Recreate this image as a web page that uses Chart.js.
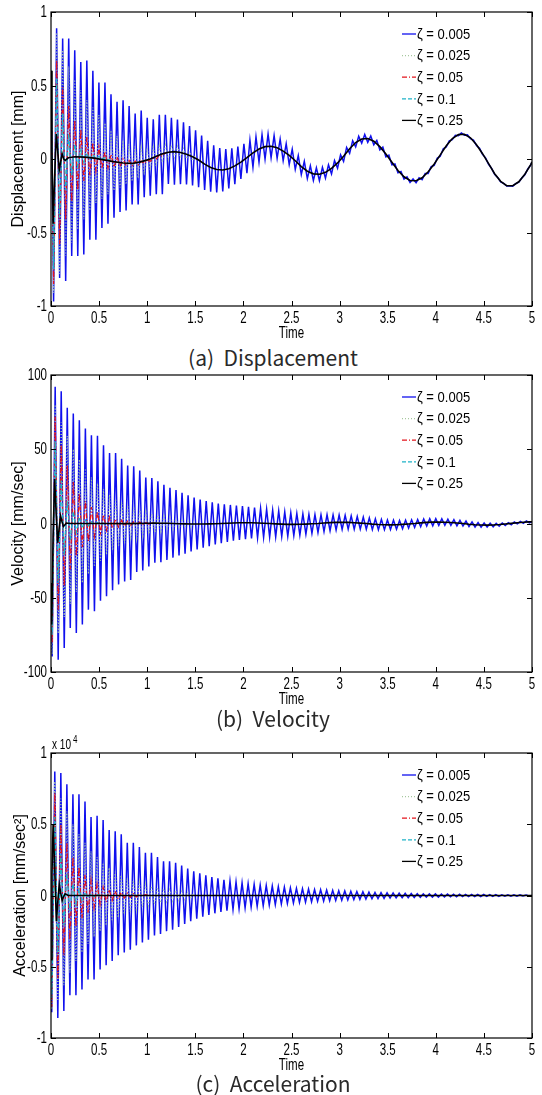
<!DOCTYPE html>
<html lang="en">
<head>
<meta charset="UTF-8">
<title>Damped response</title>
<script src="https://cdn.jsdelivr.net/npm/chart.js@4.4.0/dist/chart.umd.min.js"></script>
<style>
  body { margin: 0; background: #fff; width: 542px; height: 1095px; position: relative; overflow: hidden; }
  canvas { position: absolute; left: 0; }
  .caption { position: absolute; left: 0; width: 546px; text-align: center;
             font-family: "Noto Sans CJK KR", "Noto Sans", sans-serif; font-size: 21px;
             line-height: 26px; color: #2a2a2a; }
</style>
</head>
<body>
<canvas id="disp" width="542" height="342" style="top:0px"></canvas>
<div class="caption" style="top:344px">(a)&nbsp; Displacement</div>
<canvas id="vel" width="542" height="345" style="top:363px"></canvas>
<div class="caption" style="top:705px">(b)&nbsp; Velocity</div>
<canvas id="acc" width="542" height="341" style="top:733px"></canvas>
<div class="caption" style="top:1070px">(c)&nbsp; Acceleration</div>

<script>
// ---- data ----
const zetaLabels = ['ζ = 0.005', 'ζ = 0.025', 'ζ = 0.05', 'ζ = 0.1', 'ζ = 0.25'];
const timeTicks = [0, 0.5, 1, 1.5, 2, 2.5, 3, 3.5, 4, 4.5, 5];
const timeTickLabels = ['0', '0.5', '1', '1.5', '2', '2.5', '3', '3.5', '4', '4.5', '5'];
const dispTicks = [-1, -0.5, 0, 0.5, 1];
const dispTickLabels = ['-1', '-0.5', '0', '0.5', '1'];
const velTicks = [-100, -50, 0, 50, 100];
const velTickLabels = ['-100', '-50', '0', '50', '100'];
const accTicks = [-1, -0.5, 0, 0.5, 1];   // x 10^4
const accTickLabels = ['-1', '-0.5', '0', '0.5', '1'];

// peaks and troughs follow each other every half period
const halfPeriod = 0.0314;

// displacement [mm], extremes from t = 0.027
const dispFirst = 0.027;
const dispStart = 0.6;
const dispBlue = [
  -0.97, 0.89, -0.81, 0.82, -0.83, 0.82, -0.66, 0.74, -0.66, 0.66, -0.65, 0.67, -0.55, 0.60, -0.55, 0.52, -0.47, 0.52, -0.44, 0.44,
  -0.40, 0.39, -0.36, 0.40, -0.35, 0.36, -0.31, 0.31, -0.31, 0.33, -0.26, 0.28, -0.25, 0.27, -0.24, 0.30, -0.24, 0.30, -0.17, 0.28,
  -0.175, 0.268, -0.171, 0.249, -0.173, 0.224, -0.180, 0.195, -0.192, 0.159, -0.210, 0.123, -0.223, 0.094, -0.227, 0.075, -0.220, 0.068, -0.201, 0.072,
  -0.172, 0.085, -0.136, 0.103, -0.097, 0.128, -0.056, 0.150, -0.022, 0.165, 0.000, 0.169, 0.009, 0.159, 0.005, 0.136, -0.012, 0.104, -0.038, 0.067,
  -0.070, 0.024, -0.106, -0.016, -0.133, -0.046, -0.147, -0.060, -0.148, -0.057, -0.131, -0.040, -0.102, -0.010, -0.063, 0.028, -0.016, 0.079, 0.038, 0.124,
  0.082, 0.155, 0.108, 0.167, 0.113, 0.157, 0.097, 0.127, 0.062, 0.081, 0.014, 0.026, -0.040, -0.034, -0.094, -0.085, -0.136, -0.121, -0.160, -0.136,
  -0.161, -0.128, -0.140, -0.098, -0.098, -0.051, -0.044, 0.005, 0.019, 0.070, 0.082, 0.124, 0.131, 0.162, 0.159, 0.177, 0.162, 0.164, 0.138, 0.129,
  0.092, 0.073, 0.031, 0.008, -0.036, -0.064, -0.104, -0.125, -0.156, -0.166, -0.184, -0.182, -0.185, -0.168, -0.158, -0.129, -0.107, -0.068, -0.040
];
const dispGreen = [
  -0.91, 0.86, -0.78, 0.74, -0.66, 0.63, -0.57, 0.54, -0.48, 0.47, -0.41, 0.40, -0.35, 0.35, -0.30, 0.30,
  -0.27, 0.245, -0.24, 0.195, -0.215, 0.155, -0.194, 0.127, -0.173, 0.102, -0.152, 0.085, -0.13, 0.077, -0.105, 0.075,
  -0.077, 0.079, -0.048, 0.087, -0.021, 0.094, -0.002, 0.094, 0.009, 0.086, 0.009, 0.072, 0.002, 0.052, -0.011, 0.029
];
const dispRed = [
  -0.85, 0.67, -0.58, 0.49, -0.41, 0.36, -0.29, 0.26, -0.21, 0.20, -0.15, 0.15, -0.11, 0.11, -0.08, 0.08, -0.065, 0.05, -0.06, 0.03,
  -0.055, 0.015, -0.05, 0.0, -0.045, -0.01, -0.045, -0.015, -0.04, -0.015, -0.03, -0.01, -0.015, 0.005, 0.0, 0.025, 0.02, 0.045
];
const dispCyan = [
  -0.75, 0.55, -0.40, 0.31, -0.21, 0.17, -0.11, 0.10, -0.05, 0.06, -0.02, 0.04, -0.005, 0.028, 0.002, 0.018, 0.0, 0.008, -0.008, -0.002
];
const dispBlackHead = [
  [0, 0.6], [0.01, 0.05], [0.022, -0.44], [0.038, -0.12], [0.055, 0.17], [0.07, 0.05], [0.086, -0.075], [0.1, -0.02],
  [0.116, 0.035], [0.132, 0.0], [0.148, -0.01], [0.18, 0.008], [0.25, 0.015], [0.35, 0.013], [0.45, 0.006], [0.55, -0.006],
  [0.65, -0.018], [0.75, -0.027], [0.85, -0.03], [0.95, -0.016]
];
const dispBlackFrom = 1.032;   // then one value per period
const dispBlack = [
  0.0, 0.018, 0.035, 0.046, 0.050, 0.044, 0.032, 0.015, -0.007, -0.035, -0.058, -0.072, -0.075, -0.066, -0.047, -0.021,
  0.009, 0.042, 0.068, 0.084, 0.087, 0.077, 0.054, 0.024, -0.012, -0.052, -0.083, -0.101, -0.104, -0.091, -0.064, -0.027,
  0.018, 0.070, 0.112, 0.136, 0.139, 0.121, 0.084, 0.034, -0.022, -0.078, -0.121, -0.146, -0.148, -0.128, -0.087, -0.034,
  0.028, 0.090, 0.139, 0.166, 0.168, 0.144, 0.097, 0.036, -0.032, -0.100, -0.152, -0.181, -0.182, -0.155, -0.104, -0.037
];
const dispEnd = -0.02;

// velocity [mm/sec], extremes from t = 0.012
const velFirst = 0.012;
const velStart = [-75, -75, -70, -65];
const velBlue = [
  -89.6, 92, -91.8, 89, -83.9, 78, -70.4, 74, -73.8, 69.5, -68, 64, -58, 59.5, -59, 59, -52, 52.6, -49, 47.4,
  -45, 47.4, -41, 43.6, -39, 39, -38, 38.6, -32.7, 35.7, -31.7, 31, -29, 30.7, -26.4, 28.4, -26, 26, -24.5, 24,
  -23, 22.5, -21.6, 20.7, -20.3, 19.0, -18.8, 17.5, -17.4, 16.2,
  -16.3, 15.2, -15.3, 14.3, -14.1, 13.5, -13.2, 12.9, -12.4, 12.5, -11.6, 12.1, -11.0, 11.7, -10.5, 11.2, -10.0, 10.7, -9.7, 10.2,
  -9.4, 9.6, -9.2, 9.0, -9.0, 8.4, -8.8, 7.8, -8.6, 7.2, -8.2, 6.8, -7.8, 6.5, -7.2, 6.2, -6.6, 6.0, -6.0, 5.9,
  -5.4, 5.9, -4.8, 5.8, -4.4, 5.7, -4.0, 5.5, -3.8, 5.1, -3.8, 4.7, -3.8, 4.3, -3.9, 3.8, -4.1, 3.2, -4.2, 2.7,
  -4.2, 2.4, -4.0, 2.2, -3.8, 2.1, -3.5, 2.3, -3.1, 2.5, -2.7, 2.65, -2.2, 3.0, -1.7, 3.2, -1.5, 3.3, -1.3, 3.2,
  -1.2, 2.9, -1.3, 2.6, -1.6, 2.1, -1.7, 1.65, -2.1, 1.05, -2.35, 0.6, -2.45, 0.3, -2.4, 0.16, -2.2, 0.18, -1.8, 0.35,
  -1.3, 0.6, -0.8, 1.0, -0.3, 1.4, 0.1, 1.7, 0.35
];
const velGreen = [
  -88, 80, -74, 68, -63, 59, -54, 50, -46, 43, -40, 37, -34, 31, -29, 27, -25, 23, -21, 19.5, -18, 16.7, -15.5, 14.3,
  -13.2, 12.2, -11.3, 10.5, -9.7, 9.0, -8.3, 7.7, -7.1, 6.6, -6.1, 5.6, -5.2, 4.8, -4.4, 4.1, -3.8, 3.5, -3.3, 3.0, -2.8, 2.6, -2.4, 2.2
];
const velRed = [
  -80, 72, -58, 53, -42, 39, -31, 28, -22, 20, -16, 15, -12, 11, -8.5, 8, -6.2, 5.8, -4.5, 4.2,
  -3.3, 3.1, -2.4, 2.2, -1.8, 1.6, -1.3, 1.2, -0.9, 0.9, -0.6, 0.6, -0.4, 0.4, 0
];
const velCyan = [-75, 55, -40, 29, -21, 15, -11, 8, -6, 4.3, -3.1, 2.2, -1.6, 1.2, -0.8, 0.6, -0.4, 0.3, 0];
const velBlackHead = [
  [0, -40], [0.008, -68], [0.022, -8], [0.038, 30], [0.054, 6], [0.07, -13], [0.085, -3], [0.1, 5],
  [0.115, 1], [0.13, -2], [0.16, 0.3], [0.2, 0], [0.5, 0], [0.8, -0.1]
];
const velBlackFrom = 1.017;
const velBlack = [
  0.2, 0.25, 0.2, 0.12, 0, -0.13, -0.25, -0.32, -0.35, -0.32, -0.25, -0.13, 0, 0.19, 0.36, 0.46,
  0.5, 0.46, 0.35, 0.19, 0, -0.24, -0.43, -0.56, -0.6, -0.55, -0.41, -0.21, 0, 0.33, 0.59, 0.75,
  0.8, 0.73, 0.54, 0.27, 0, -0.39, -0.67, -0.85, -0.9, -0.81, -0.6, -0.3, 0, 0.44, 0.76, 0.95,
  1.0, 0.89, 0.66, 0.31, 0, -0.5, -0.85, -1.05, -1.09, -0.97, -0.7, -0.33, 0.1, 0.54, 0.89, 1.1
];
const velEnd = 1.15;

// acceleration [mm/sec^2] x 10^4, extremes from t = 0.008
const accFirst = 0.008;
const accStart = [-0.6, -0.6, -0.55, -0.5];
const accBlue = [
  -0.82, 0.87, -0.86, 0.86, -0.81, 0.78, -0.70, 0.71, -0.70, 0.71, -0.66, 0.66, -0.59, 0.55, -0.59, 0.56, -0.52, 0.53, -0.49, 0.46,
  -0.46, 0.45, -0.42, 0.43, -0.40, 0.37, -0.38, 0.37, -0.35, 0.34, -0.33, 0.30, -0.31, 0.30, -0.28, 0.27, -0.27, 0.24, -0.25, 0.24,
  -0.24, 0.23, -0.22, 0.21, -0.20, 0.19, -0.18, 0.17, -0.162, 0.155,
  -0.148, 0.142, -0.136, 0.13, -0.125, 0.12, -0.115, 0.11, -0.106, 0.102, -0.098, 0.095, -0.092, 0.089, -0.086, 0.083, -0.08, 0.078, -0.076, 0.074,
  -0.072, 0.07, -0.068, 0.066, -0.064, 0.062, -0.06, 0.058, -0.056, 0.054, -0.052, 0.05, -0.049, 0.048, -0.046, 0.045, -0.044, 0.042, -0.041, 0.04,
  -0.039, 0.038, -0.037, 0.036, -0.035, 0.034, -0.033, 0.032, -0.031, 0.03, -0.029, 0.028, -0.027, 0.026, -0.025, 0.024, -0.023, 0.022, -0.021, 0.02,
  -0.02, 0.019, -0.018, 0.018, -0.017, 0.016, -0.016, 0.015, -0.015, 0.014, -0.014, 0.013, -0.013, 0.012, -0.012, 0.012, -0.011, 0.011, -0.011, 0.01,
  -0.01, 0.01, -0.009, 0.009, -0.009, 0.009, -0.008, 0.008, -0.008, 0.008, -0.007, 0.007, -0.007, 0.007, -0.006, 0.006, -0.006, 0.006, -0.006, 0.005,
  -0.005, 0.005, -0.005, 0.005, -0.005, 0.004, -0.004, 0.004, -0.004
];
const accGreen = [
  -0.80, 0.80, -0.74, 0.68, -0.63, 0.59, -0.54, 0.50, -0.46, 0.43, -0.40, 0.37, -0.34, 0.31, -0.29, 0.27,
  -0.25, 0.23, -0.21, 0.195, -0.18, 0.167, -0.155, 0.143, -0.132, 0.122, -0.113, 0.105, -0.097, 0.09, -0.083, 0.077,
  -0.071, 0.066, -0.061, 0.056, -0.052, 0.048, -0.044, 0.041, -0.038, 0.035, -0.033, 0.030, -0.028, 0.026, -0.024, 0.022
];
const accRed = [
  -0.78, 0.72, -0.58, 0.50, -0.42, 0.37, -0.31, 0.27, -0.22, 0.20, -0.16, 0.145, -0.12, 0.105, -0.085, 0.078,
  -0.062, 0.057, -0.045, 0.041, -0.033, 0.03, -0.024, 0.022, -0.018, 0.016, -0.013, 0.012, -0.009, 0.008, -0.006, 0.006, 0
];
const accCyan = [-0.72, 0.55, -0.40, 0.29, -0.21, 0.155, -0.11, 0.08, -0.06, 0.043, -0.031, 0.022, -0.016, 0.012, -0.008, 0.006, 0];
const accBlackHead = [
  [0, -0.45], [0.01, 0.15], [0.022, 0.5], [0.038, 0.2], [0.056, -0.18], [0.07, -0.05], [0.086, 0.08], [0.1, 0.02],
  [0.116, -0.035], [0.13, -0.01], [0.146, 0.012], [0.18, 0], [5, 0]
];

// ---- building the series ----
function extremes(start, first, values, end) {
  const pts = [{x: 0, y: start}];
  values.forEach((v, i) => pts.push({x: first + i * halfPeriod, y: v}));
  if (end !== undefined) pts.push({x: 5, y: end});
  return pts;
}
function track(head, from, values, end) {
  const pts = head.map(([x, y]) => ({x, y}));
  values.forEach((v, i) => pts.push({x: from + i * 2 * halfPeriod, y: v}));
  if (end !== undefined) pts.push({x: 5, y: end});
  return pts;
}

const lineStyles = [
  {color: '#1010ee', width: 1.5, dash: [], order: 5},
  {color: '#a6c89e', width: 1.2, dash: [1, 2], order: 4},
  {color: '#e3141c', width: 1.3, dash: [5, 2, 1, 2], order: 3},
  {color: '#1fb3c8', width: 1.3, dash: [4, 2], order: 2},
  {color: '#000000', width: 1.6, dash: [], order: 1}
];

const sans = "'Liberation Sans', Arial, sans-serif";

// MATLAB axis text is tall and narrow in this figure
function squeezed(ctx, text, x, y, align, size, sx) {
  ctx.save();
  ctx.translate(x, y);
  ctx.scale(sx, 1);
  ctx.font = size + 'px ' + sans;
  ctx.textAlign = align;
  ctx.textBaseline = 'middle';
  ctx.fillStyle = '#000';
  ctx.fillText(text, 0, 0);
  ctx.restore();
}

// box, inward ticks, tick labels, legend and exponent in the MATLAB manner
const matlabFrame = {
  id: 'matlabFrame',
  afterDraw(chart, args, opts) {
    const {ctx, chartArea: a, scales: {x, y}} = chart;
    ctx.save();
    ctx.setLineDash([]);
    ctx.strokeStyle = '#000';
    ctx.lineWidth = 1.2;
    ctx.strokeRect(a.left, a.top, a.right - a.left, a.bottom - a.top);
    ctx.lineWidth = 1;
    ctx.beginPath();
    x.ticks.forEach(t => {
      const px = Math.round(x.getPixelForValue(t.value)) + 0.5;
      ctx.moveTo(px, a.bottom); ctx.lineTo(px, a.bottom - 5);
      ctx.moveTo(px, a.top); ctx.lineTo(px, a.top + 5);
    });
    y.ticks.forEach(t => {
      const py = Math.round(y.getPixelForValue(t.value)) + 0.5;
      ctx.moveTo(a.left, py); ctx.lineTo(a.left + 5, py);
      ctx.moveTo(a.right, py); ctx.lineTo(a.right - 5, py);
    });
    ctx.stroke();
    ctx.restore();

    x.ticks.forEach((t, i) => squeezed(ctx, timeTickLabels[i], x.getPixelForValue(t.value), a.bottom + 12.5, 'center', 17, 0.68));
    y.ticks.forEach((t, i) => squeezed(ctx, opts.yLabels[i], a.left - 4, y.getPixelForValue(t.value) + 0.5, 'right', 17, 0.68));
    squeezed(ctx, 'Time', (a.left + a.right) / 2, a.bottom + 27, 'center', 17, 0.68);

    // legend, no box
    chart.data.datasets.forEach((ds, i) => {
      const ly = a.top + 22 + i * 21.6;
      ctx.save();
      ctx.strokeStyle = ds.borderColor;
      ctx.lineWidth = Math.min(ds.borderWidth, 1.3);
      ctx.setLineDash(ds.borderDash);
      ctx.beginPath();
      ctx.moveTo(a.right - 130, ly);
      ctx.lineTo(a.right - 116, ly);
      ctx.stroke();
      ctx.restore();
      squeezed(ctx, ds.label, a.right - 115, ly + 1, 'left', 14, 0.93);
    });

    if (opts.exponent) {
      squeezed(ctx, 'x 10', a.left + 1, a.top - 8, 'left', 14, 0.72);
      squeezed(ctx, opts.exponent, a.left + 22, a.top - 13, 'left', 10, 0.8);
    }
  }
};

function makePanel(id, padTop, yTicks, yLabels, yTitle, titleGap, series, exponent) {
  const datasets = series.map((pts, i) => ({
    label: zetaLabels[i],
    data: pts,
    borderColor: lineStyles[i].color,
    borderWidth: lineStyles[i].width,
    borderDash: lineStyles[i].dash,
    order: lineStyles[i].order,
    pointRadius: 0,
    fill: false,
    tension: 0
  }));
  return new Chart(document.getElementById(id), {
    type: 'line',
    data: {datasets},
    options: {
      responsive: false,
      animation: false,
      parsing: false,
      normalized: true,
      layout: {padding: {top: padTop, right: 10, left: 0, bottom: 0}},
      plugins: {legend: {display: false}, tooltip: {enabled: false}, matlabFrame: {exponent, yLabels}},
      scales: {
        x: {
          type: 'linear', min: 0, max: 5,
          afterBuildTicks: s => { s.ticks = timeTicks.map(v => ({value: v})); },
          afterFit: s => { s.height = 36; },
          grid: {display: false, drawTicks: false},
          border: {display: false},
          ticks: {display: false}
        },
        y: {
          type: 'linear', min: yTicks[0], max: yTicks[yTicks.length - 1],
          afterBuildTicks: s => { s.ticks = yTicks.map(v => ({value: v})); },
          afterFit: s => { s.width = 51; },
          grid: {display: false, drawTicks: false},
          border: {display: false},
          ticks: {display: false},
          title: {display: true, text: yTitle, color: '#000', padding: {top: titleGap, bottom: 0}, font: {family: sans, size: 16}}
        }
      }
    },
    plugins: [matlabFrame]
  });
}

makePanel('disp', 12, dispTicks, dispTickLabels, 'Displacement [mm]', 9, [
  extremes(dispStart, dispFirst, dispBlue, dispEnd),
  extremes(dispStart, dispFirst, dispGreen),
  extremes(dispStart, dispFirst, dispRed),
  extremes(dispStart, dispFirst, dispCyan),
  track(dispBlackHead, dispBlackFrom, dispBlack, dispEnd)
]);

makePanel('vel', 12, velTicks, velTickLabels, 'Velocity [mm/sec]', 9, [
  extremes(velStart[0], velFirst, velBlue, velEnd),
  extremes(velStart[1], velFirst, velGreen),
  extremes(velStart[2], velFirst, velRed),
  extremes(velStart[3], velFirst, velCyan),
  track(velBlackHead, velBlackFrom, velBlack, velEnd)
]);

makePanel('acc', 20, accTicks, accTickLabels, 'Acceleration [mm/sec²]', 11, [
  extremes(accStart[0], accFirst, accBlue, 0),
  extremes(accStart[1], accFirst, accGreen),
  extremes(accStart[2], accFirst, accRed),
  extremes(accStart[3], accFirst, accCyan),
  track(accBlackHead, 0, [])
], '4');
</script>
</body>
</html>
